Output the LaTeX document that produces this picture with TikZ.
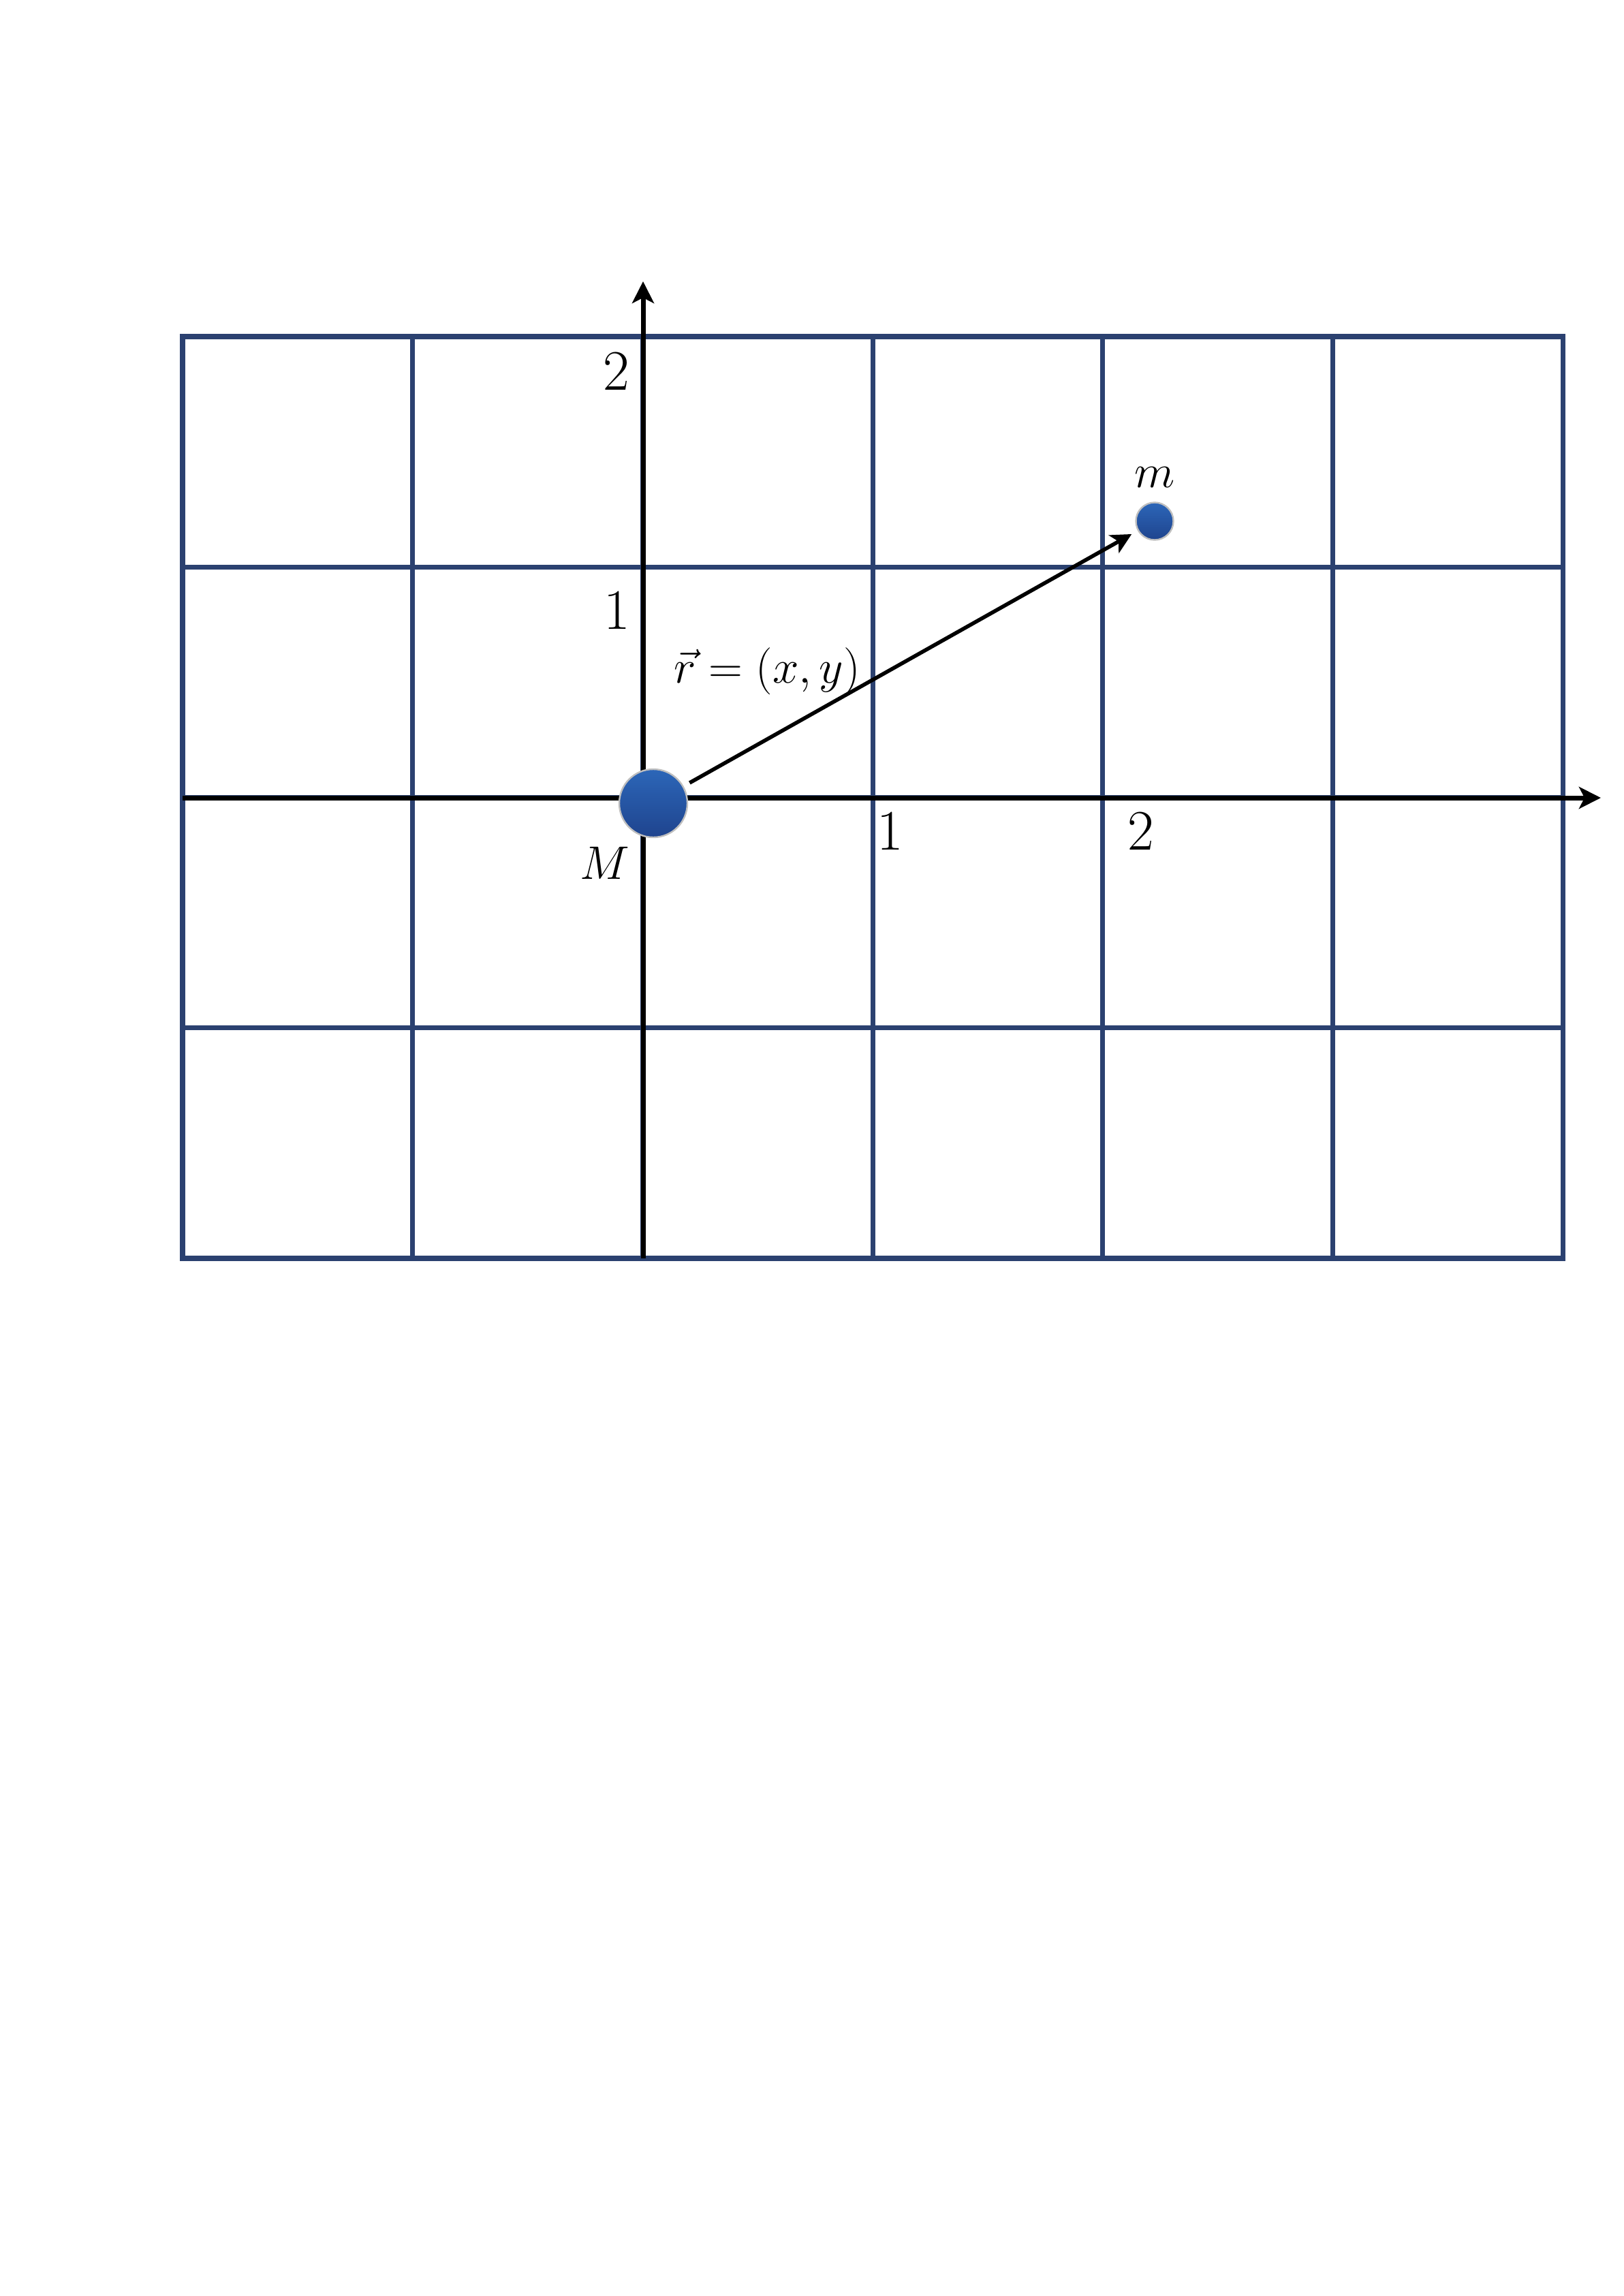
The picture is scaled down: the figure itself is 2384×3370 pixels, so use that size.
\documentclass[tikz,border=0pt]{standalone}
\usetikzlibrary{arrows.meta}
\definecolor{gridblue}{HTML}{2B4170}
\definecolor{balltop}{HTML}{2C66B8}
\definecolor{ballbot}{HTML}{1F448E}
\begin{document}
\begin{tikzpicture}[x=0.25pt,y=-0.25pt,
  gridline/.style={draw=gridblue,line width=1.8pt,line cap=rect},
  axisline/.style={draw=black,line width=1.75pt,-{Stealth[length=8pt,width=8pt,inset=2pt]}},
  vecline/.style={draw=black,line width=1.4pt,-{Stealth[length=7.5pt,width=7.5pt,inset=2pt]}},
  ball/.style={circle,inner sep=0pt,shade,top color=balltop,bottom color=ballbot,draw=black!25,line width=0.6pt},
  numlabel/.style={font=\fontsize{21}{25}\selectfont,inner sep=0pt}
]
\useasboundingbox (0,0) rectangle (2384,3370);
% grid
\foreach \i in {0,...,6} {
  \draw[gridline] (268+337.7*\i,494) -- (268+337.7*\i,1847);
}
\foreach \j in {0,...,4} {
  \draw[gridline] (268,494+338.25*\j) -- (2294,494+338.25*\j);
}
% axes
\coordinate (xstart) at (268,1171);
\coordinate (xend) at (2350,1171);
\coordinate (ystart) at (944,1847);
\coordinate (yend) at (944,413);
\draw[axisline] (xstart) -- (xend);
\draw[axisline] (ystart) -- (yend);
% tick labels
\node[numlabel] (y2) at (905,545) {2};
\node[numlabel] (y1) at (906,896) {1};
\node[numlabel] (x1) at (1307,1220) {1};
\node[numlabel] (x2) at (1675,1220) {2};
% masses
\node[ball,minimum size=25pt] (M) at (959,1179) {};
\node[ball,minimum size=13.75pt] (m) at (1695,765) {};
\node[font=\fontsize{16.5}{20}\selectfont,inner sep=0pt] (Mlab) at (888,1267) {$M$};
\node[font=\fontsize{19}{23}\selectfont,inner sep=0pt,anchor=base] (mlab) at (1695,715) {$m$};
% vector
\draw[vecline,shorten <=2.5pt,shorten >=2.5pt] (M) -- (m);
\node[font=\fontsize{16}{20}\selectfont,inner sep=0pt] (rlab) at (1126,985) {$\vec{r}=(x,y)$};
\end{tikzpicture}
\end{document}
